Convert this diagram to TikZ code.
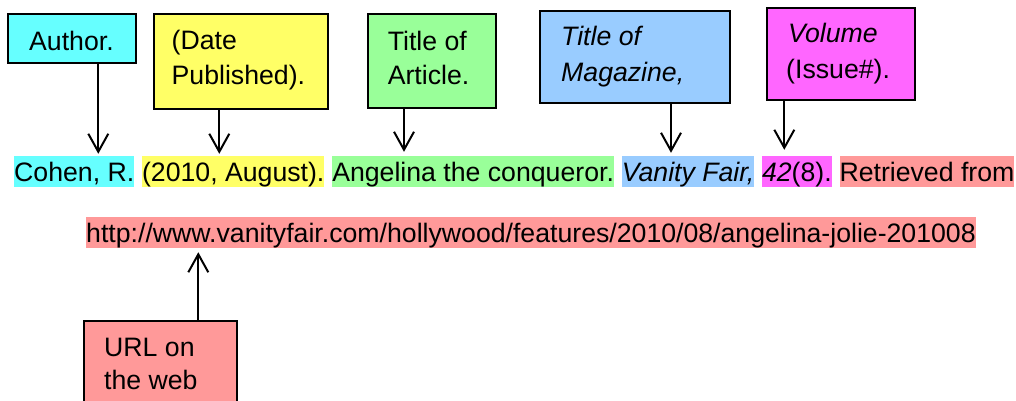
\documentclass[tikz,border=0pt]{standalone}
\usepackage{fontspec}
\setmainfont{Liberation Sans}
\usetikzlibrary{arrows.meta}
\definecolor{ccyan}{HTML}{66FFFF}
\definecolor{cyel}{HTML}{FFFF66}
\definecolor{cgreen}{HTML}{99FF99}
\definecolor{cblue}{HTML}{99CCFF}
\definecolor{cmag}{HTML}{FF66FF}
\definecolor{cred}{HTML}{FF9999}
\begin{document}
\begin{tikzpicture}[x=1pt,y=-1pt,
  every node/.style={font=\fontsize{26.67pt}{32pt}\selectfont},
  hl/.style={inner sep=0pt, text height=25pt, text depth=6pt, anchor=base west},
  lbox/.style={draw=black, line width=2pt, inner sep=0pt, anchor=north west},
  txt/.style={inner sep=0pt, anchor=base west},
  arr/.style={-{Straight Barb[length=18pt,width=20pt]}, line width=2pt}]
\clip (0,0) rectangle (1016,400);
\fill[white] (0,0) rectangle (1016,400);

% highlighted reference, line 1
\node[hl, fill=ccyan] (cohen) at (14,181) {Cohen, R.};
\node[hl, fill=cyel] (date) at ([xshift=7.41pt]cohen.base east) {(2010, August).};
\node[hl, fill=cgreen] (title) at ([xshift=7.41pt]date.base east) {Angelina the conqueror.};
\node[hl, fill=cblue] (mag) at ([xshift=7.41pt]title.base east) {\textit{Vanity Fair,}};
\node[hl, fill=cmag] (vol) at ([xshift=7.41pt]mag.base east) {\textit{42}(8).};
\node[hl, fill=cred] (retr) at ([xshift=7.41pt]vol.base east) {Retrieved from};
% line 2
\node[hl, fill=cred] (url) at (86,242) {http://www.vanityfair.com/hollywood/features/2010/08/angelina-jolie-201008};

% label boxes
\node[lbox, fill=ccyan, minimum width=128pt, minimum height=48.7pt] (bauthor) at (7,13.3) {};
\node[txt] (tauthor) at (29,50) {Author.};

\node[lbox, fill=cyel, minimum width=174.6pt, minimum height=94.7pt] (bdate) at (152.7,13.3) {};
\node[txt] (tdate1) at (171.5,49.3) {(Date};
\node[txt] (tdate2) at (171.5,84.8) {Published).};

\node[lbox, fill=cgreen, minimum width=128.6pt, minimum height=93.4pt] (btitle) at (366.7,13.3) {};
\node[txt] (ttitle1) at (387.6,50) {Title of};
\node[txt] (ttitle2) at (387.6,84.5) {Article.};

\node[lbox, fill=cblue, minimum width=190pt, minimum height=91.7pt] (bmag) at (539.3,10) {};
\node[txt] (tmag1) at (561,45) {\textit{Title of}};
\node[txt] (tmag2) at (561,81) {\textit{Magazine,}};

\node[lbox, fill=cmag, minimum width=148pt, minimum height=92pt] (bvol) at (766,6.7) {};
\node[txt] (tvol1) at (788,42.7) {\textit{Volume}};
\node[txt] (tvol2) at (786,78.3) {(Issue\#).};

\node[lbox, fill=cred, minimum width=153.3pt, minimum height=100pt] (burl) at (82.7,320) {};
\node[txt] (turl1) at (104,356) {URL on};
\node[txt] (turl2) at (104,389.3) {the web};

% arrows
\coordinate (xa) at (98.3,0);
\coordinate (xd) at (219.3,0);
\coordinate (xt) at (404,0);
\coordinate (xm) at (671,0);
\coordinate (xv) at (784.3,0);
\coordinate (xu) at (198.3,0);
\draw[arr, shorten >=2pt] (bauthor.south -| xa) -- (cohen.north -| xa);
\draw[arr, shorten >=2pt] (bdate.south -| xd) -- (date.north -| xd);
\draw[arr, shorten >=4pt] (btitle.south -| xt) -- (title.north -| xt);
\draw[arr, shorten >=3pt] (bmag.south -| xm) -- (mag.north -| xm);
\draw[arr, shorten >=6pt] (bvol.south -| xv) -- (vol.north -| xv);
\draw[arr, shorten >=4pt] (burl.north -| xu) -- (url.south -| xu);
\end{tikzpicture}
\end{document}
